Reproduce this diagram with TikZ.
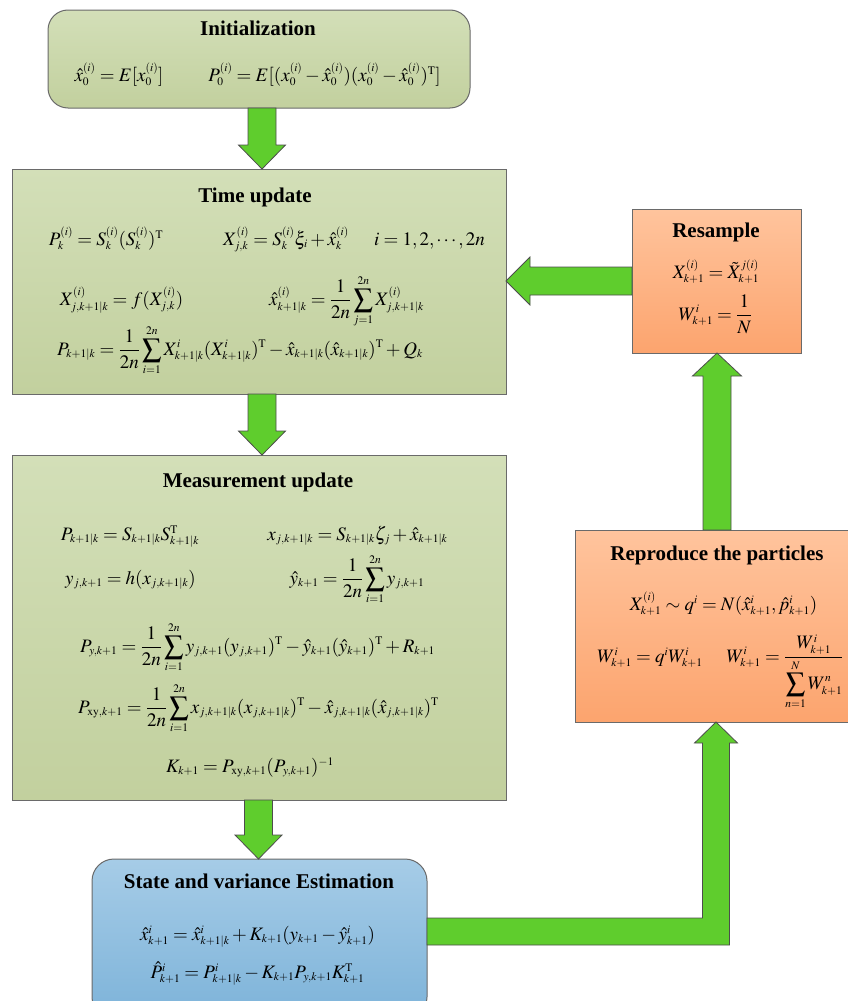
\documentclass[tikz,border=0pt]{standalone}
\usepackage{mathptmx}
\usepackage{fontspec}
\setmainfont{Liberation Serif}
\usetikzlibrary{calc}
\DeclareMathSizes{19}{19}{11.5}{9}
\definecolor{gtop}{HTML}{D3DFB8}
\definecolor{gbot}{HTML}{C2D09E}
\definecolor{otop}{HTML}{FFC49D}
\definecolor{obot}{HTML}{FCA46E}
\definecolor{btop}{HTML}{A6CCE7}
\definecolor{bbot}{HTML}{7DB3D9}
\definecolor{agreen}{HTML}{5FCD2D}
\definecolor{aborder}{HTML}{4D4D4D}
\definecolor{boxborder}{HTML}{6A6A6A}
\newcommand\blockdown[2]{%
  \draw[garrow] let \p1=(#1), \p2=(#2) in
   (\x2-14pt,\y1) -- (\x2+14pt,\y1) -- (\x2+14pt,\y2+24pt) -- (\x2+23.5pt,\y2+24pt)
   -- (\x2,\y2) -- (\x2-23.5pt,\y2+24pt) -- (\x2-14pt,\y2+24pt) -- cycle;}
\newcommand\blockup[2]{%
  \draw[garrow] let \p1=(#1), \p2=(#2) in
   (\x2-14pt,\y1) -- (\x2+14pt,\y1) -- (\x2+14pt,\y2-23pt) -- (\x2+24.5pt,\y2-23pt)
   -- (\x2,\y2) -- (\x2-24.5pt,\y2-23pt) -- (\x2-14pt,\y2-23pt) -- cycle;}
\newcommand\blockleft[2]{%
  \draw[garrow] let \p1=(#1), \p2=(#2) in
   (\x1,\y2+14pt) -- (\x1,\y2-14pt) -- (\x2+24pt,\y2-14pt) -- (\x2+24pt,\y2-24pt)
   -- (\x2,\y2) -- (\x2+24pt,\y2+24pt) -- (\x2+24pt,\y2+14pt) -- cycle;}
\begin{document}
\begin{tikzpicture}[x=1pt,y=-1pt,
  box/.style={draw=boxborder, line width=1pt, inner sep=0pt, outer sep=0pt},
  greenbox/.style={box, top color=gtop, bottom color=gbot},
  orangebox/.style={box, top color=otop, bottom color=obot},
  bluebox/.style={box, top color=btop, bottom color=bbot},
  title/.style={anchor=base, inner sep=0pt, font=\fontsize{21}{25}\selectfont\bfseries},
  eq/.style={anchor=base, inner sep=0pt, font=\fontsize{19}{23}\selectfont},
  garrow/.style={draw=aborder, line width=0.8pt, fill=agreen, line join=miter}]
\useasboundingbox (0,0) rectangle (848,1001);
% boxes
\node[greenbox, rounded corners=20pt, minimum width=422pt, minimum height=98pt] (init) at (259,59) {};
\node[greenbox, minimum width=494pt, minimum height=225pt] (time) at (259,281.5) {};
\node[greenbox, minimum width=494pt, minimum height=345pt] (meas) at (259,627.5) {};
\node[bluebox, rounded corners=22pt, minimum width=335pt, minimum height=160pt] (state) at (259.5,939) {};
\node[orangebox, minimum width=169pt, minimum height=144pt] (resample) at (716.5,281) {};
\node[orangebox, minimum width=274pt, minimum height=192pt] (repro) at (712,626) {};
% arrow reference coordinates
\coordinate (c1) at (262,0);
\coordinate (c3) at (258.5,0);
\coordinate (c4) at (0,281);
\coordinate (c5) at (717,0);
\coordinate (c6) at (716,931.5);
% arrows
\blockdown{init.south -| c1}{time.north -| c1}
\blockdown{time.south -| c1}{meas.north -| c1}
\blockdown{meas.south -| c3}{state.north -| c3}
\blockleft{resample.west |- c4}{time.east |- c4}
\blockup{repro.north -| c5}{resample.south -| c5}
\draw[garrow] let \p1=(state.east |- c6), \p2=(repro.south -| c6) in
   (\x1,\y1+13.5pt) -- (\x2-13.5pt,\y1+13.5pt) -- (\x2-13.5pt,\y2-21pt) -- (\x2-21.5pt,\y2-21pt)
   -- (\x2,\y2) -- (\x2+21.5pt,\y2-21pt) -- (\x2+13.5pt,\y2-21pt) -- (\x2+13.5pt,\y1-13.5pt)
   -- (\x1,\y1-13.5pt) -- cycle;
% titles
\node[title] (tinit) at (258,35) {Initialization};
\node[title] (ttime) at (255,202) {Time update};
\node[title] (tmeas) at (258,487) {Measurement update};
\node[title] (tres) at (716,237) {Resample};
\node[title] (trep) at (717,560) {Reproduce the particles};
\node[title] (tstate) at (259,888) {State and variance Estimation};
% initialization
\node[eq] (i1) at (119,81) {$\hat{x}_0^{(i)}=E[x_0^{(i)}]$};
\node[eq] (i2) at (324.5,81) {$P_0^{(i)}=E[(x_0^{(i)}-\hat{x}_0^{(i)})(x_0^{(i)}-\hat{x}_0^{(i)})^{\mathrm{T}}]$};
% time update
\node[eq] (t1) at (106,245) {$P_k^{(i)}=S_k^{(i)}(S_k^{(i)})^{\mathrm{T}}$};
\node[eq] (t2) at (286,245) {$X_{j,k}^{(i)}=S_k^{(i)}\xi_i+\hat{x}_k^{(i)}$};
\node[eq] (t3) at (429.5,245) {$i=1,2,\cdots,2n$};
\node[eq] (t4) at (121.5,305) {$X_{j,k+1|k}^{(i)}=f(X_{j,k}^{(i)})$};
\node[eq] (t5) at (346.5,305) {$\displaystyle\hat{x}_{k+1|k}^{(i)}=\frac{1}{2n}\sum_{j=1}^{2n}X_{j,k+1|k}^{(i)}$};
\node[eq] (t6) at (240,355) {$\displaystyle P_{k+1|k}=\frac{1}{2n}\sum_{i=1}^{2n}X_{k+1|k}^{i}(X_{k+1|k}^{i})^{\mathrm{T}}-\hat{x}_{k+1|k}(\hat{x}_{k+1|k})^{\mathrm{T}}+Q_k$};
% measurement update
\node[eq] (m1) at (130,540) {$P_{k+1|k}=S_{k+1|k}S_{k+1|k}^{\mathrm{T}}$};
\node[eq] (m2) at (357.5,540) {$x_{j,k+1|k}=S_{k+1|k}\zeta_j+\hat{x}_{k+1|k}$};
\node[eq] (m3) at (130.5,584) {$y_{j,k+1}=h(x_{j,k+1|k})$};
\node[eq] (m4) at (357,584) {$\displaystyle\hat{y}_{k+1}=\frac{1}{2n}\sum_{i=1}^{2n}y_{j,k+1}$};
\node[eq] (m5) at (257.5,652) {$\displaystyle P_{y,k+1}=\frac{1}{2n}\sum_{i=1}^{2n}y_{j,k+1}(y_{j,k+1})^{\mathrm{T}}-\hat{y}_{k+1}(\hat{y}_{k+1})^{\mathrm{T}}+R_{k+1}$};
\node[eq] (m6) at (258.5,713) {$\displaystyle P_{\mathrm{xy},k+1}=\frac{1}{2n}\sum_{i=1}^{2n}x_{j,k+1|k}(x_{j,k+1|k})^{\mathrm{T}}-\hat{x}_{j,k+1|k}(\hat{x}_{j,k+1|k})^{\mathrm{T}}$};
\node[eq] (m7) at (250,772) {$K_{k+1}=P_{\mathrm{xy},k+1}(P_{y,k+1})^{-1}$};
% resample
\node[eq] (r1) at (716,278) {$X_{k+1}^{(i)}=\tilde{X}_{k+1}^{j(i)}$};
\node[eq] (r2) at (715.5,320) {$\displaystyle W_{k+1}^{i}=\frac{1}{N}$};
% reproduce
\node[eq] (p1) at (723.5,610) {$X_{k+1}^{(i)}\sim q^i=N(\hat{x}_{k+1}^{i},\hat{p}_{k+1}^{i})$};
\node[eq] (p2) at (650,662) {$W_{k+1}^{i}=q^iW_{k+1}^{i}$};
\node[eq] (p3) at (785,662) {$\displaystyle W_{k+1}^{i}=\frac{W_{k+1}^{i}}{\displaystyle\sum_{n=1}^{N}W_{k+1}^{n}}$};
% state
\node[eq] (s1) at (257.5,940) {$\hat{x}_{k+1}^{i}=\hat{x}_{k+1|k}^{i}+K_{k+1}(y_{k+1}-\hat{y}_{k+1}^{i})$};
\node[eq] (s2) at (257.5,978) {$\hat{P}_{k+1}^{i}=P_{k+1|k}^{i}-K_{k+1}P_{y,k+1}K_{k+1}^{\mathrm{T}}$};
\end{tikzpicture}
\end{document}
